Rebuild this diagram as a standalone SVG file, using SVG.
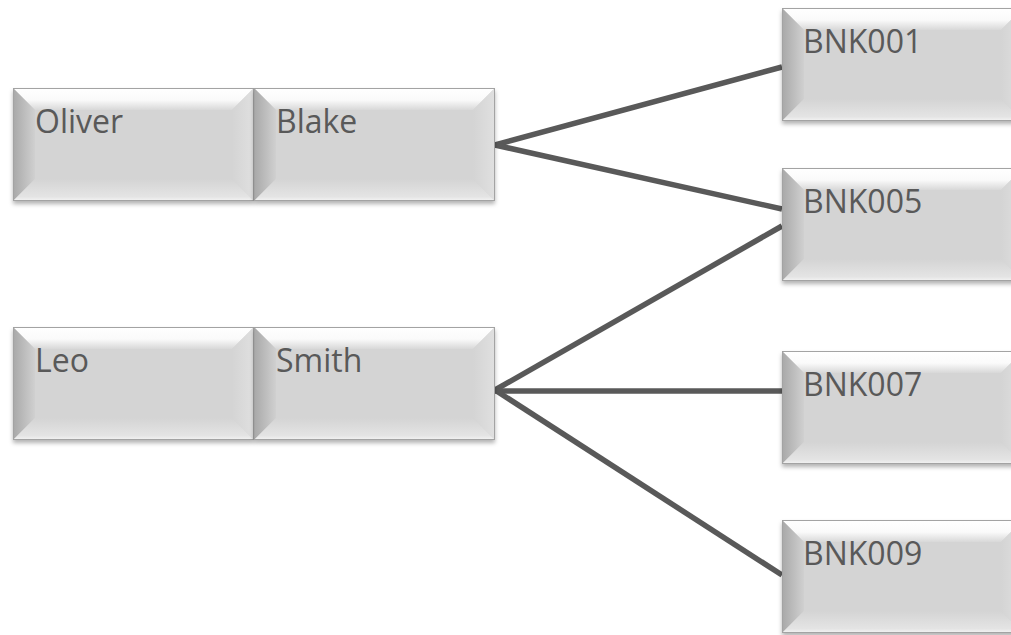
<svg xmlns="http://www.w3.org/2000/svg" xmlns:xlink="http://www.w3.org/1999/xlink" width="1011" height="635" viewBox="0 0 1011 635">
<style>
.lbl{font-family:"Open Sans","Liberation Sans",sans-serif;font-size:32px;fill:#595959}
.conn{stroke:#595959;stroke-width:5.5;fill:none;stroke-linecap:butt}
</style>
<defs>
<linearGradient id="gTop" x1="0" y1="0" x2="0" y2="1">
<stop offset="0" stop-color="#ffffff"/><stop offset="0.55" stop-color="#fafafa"/><stop offset="1" stop-color="#d8d8d8"/>
</linearGradient>
<linearGradient id="gLeft" x1="0" y1="0" x2="1" y2="0">
<stop offset="0" stop-color="#a8a8a8"/><stop offset="1" stop-color="#d0d0d0"/>
</linearGradient>
<linearGradient id="gRight" x1="0" y1="0" x2="1" y2="0">
<stop offset="0" stop-color="#d4d4d4"/><stop offset="1" stop-color="#e0e0e0"/>
</linearGradient>
<linearGradient id="gBot" x1="0" y1="0" x2="0" y2="1">
<stop offset="0" stop-color="#d4d4d4"/><stop offset="0.8" stop-color="#e4e4e4"/><stop offset="1" stop-color="#f4f4f4"/>
</linearGradient>
<filter id="sh" x="-5%" y="-5%" width="110%" height="120%">
<feDropShadow dx="0" dy="3" stdDeviation="2" flood-color="#000" flood-opacity="0.3"/>
</filter>
<g id="bevel">
<rect x="0" y="0" width="241" height="113" fill="#d4d4d4" filter="url(#sh)"/>
<polygon points="0,0 241,0 219,22 22,22" fill="url(#gTop)"/>
<polygon points="0,0 22,22 22,91 0,113" fill="url(#gLeft)"/>
<polygon points="241,0 241,113 219,91 219,22" fill="url(#gRight)"/>
<polygon points="0,113 22,91 219,91 241,113" fill="url(#gBot)"/>
<rect x="22" y="22" width="197" height="69" fill="#d4d4d4"/>
<rect x="0.5" y="0.5" width="240" height="112" fill="none" stroke="#a3a3a3" stroke-width="1"/>
</g>
</defs>
<rect width="1011" height="635" fill="#ffffff"/>
<g id="connectors">
<line class="conn" x1="495" y1="145" x2="782" y2="67"/>
<line class="conn" x1="495" y1="145" x2="782" y2="209"/>
<line class="conn" x1="495" y1="390" x2="782" y2="226"/>
<line class="conn" x1="495" y1="391" x2="782" y2="391"/>
<line class="conn" x1="495" y1="390" x2="782" y2="575"/>
</g>
<g id="oliver"><use xlink:href="#bevel" x="13" y="88"/><text class="lbl" x="35" y="133">Oliver</text></g>
<g id="blake"><use xlink:href="#bevel" x="254" y="88"/><text class="lbl" x="276" y="133">Blake</text></g>
<g id="leo"><use xlink:href="#bevel" x="13" y="327"/><text class="lbl" x="35" y="372">Leo</text></g>
<g id="smith"><use xlink:href="#bevel" x="254" y="327"/><text class="lbl" x="276" y="372">Smith</text></g>
<g id="bnk001"><use xlink:href="#bevel" x="782" y="8"/><text class="lbl" x="803" y="53">BNK001</text></g>
<g id="bnk005"><use xlink:href="#bevel" x="782" y="168"/><text class="lbl" x="803" y="213">BNK005</text></g>
<g id="bnk007"><use xlink:href="#bevel" x="782" y="351"/><text class="lbl" x="803" y="396">BNK007</text></g>
<g id="bnk009"><use xlink:href="#bevel" x="782" y="520"/><text class="lbl" x="803" y="565">BNK009</text></g>
</svg>
